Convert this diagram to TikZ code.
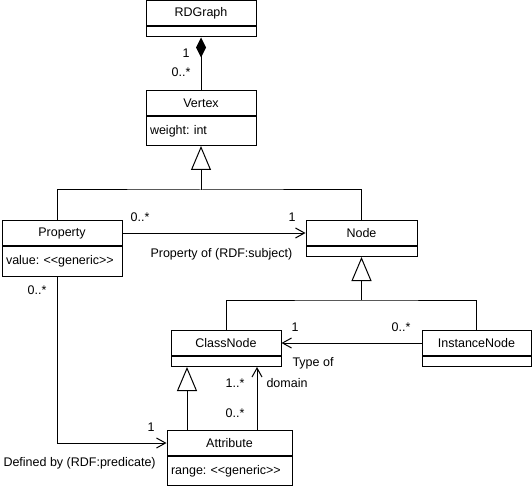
\documentclass[tikz,border=0pt]{standalone}
\usepackage{fontspec}
\setmainfont{Liberation Sans}
\usetikzlibrary{arrows.meta,positioning}

\newcommand{\guil}[1]{<\kern0pt<#1>\kern0pt>}

\tikzset{
	cname/.style={draw, minimum height=25pt, inner sep=0pt},
	cattr/.style={draw, inner xsep=4pt, inner ysep=0pt, align=left},
	gen/.style={-{Triangle[open, width=20pt, length=24pt]}},
	assoc/.style={-{Straight Barb[length=9pt, width=10pt]}},
	comp/.style={{Diamond[width=10pt, length=20pt]}-},
	mult/.style={inner sep=0pt},
}

\begin{document}
\frenchspacing
\begin{tikzpicture}[x=1pt, y=-1pt, line width=1pt, font=\fontsize{12.5}{14}\selectfont]
		\useasboundingbox (0,0) rectangle (532,486);
		\node[cname, minimum width=110pt, anchor=north] (rdg) at (201,0.5) {RDGraph};
		\node[cattr, text width=102pt, minimum height=10pt, below=0pt of rdg] (rdga) {};
		\node[cname, minimum width=110pt, anchor=north] (vx) at (201,90) {Vertex};
		\node[cattr, text width=102pt, minimum height=29pt, below=0pt of vx] (vxa) {weight: int};
		\node[cname, minimum width=120pt, anchor=north] (prop) at (62,220) {Property};
		\node[cattr, text width=112pt, minimum height=30pt, below=0pt of prop] (propa) {value: \guil{generic}};
		\node[cname, minimum width=111pt, anchor=north] (nd) at (361.5,220) {Node};
		\node[cattr, text width=103pt, minimum height=10pt, below=0pt of nd] (nda) {};
		\node[cname, minimum width=110pt, anchor=north] (cls) at (226,330) {ClassNode};
		\node[cattr, text width=102pt, minimum height=10pt, below=0pt of cls] (clsa) {};
		\node[cname, minimum width=109pt, anchor=north] (inst) at (476.5,330) {InstanceNode};
		\node[cattr, text width=101pt, minimum height=10pt, below=0pt of inst] (insta) {};
		\node[cname, minimum width=125pt, anchor=north] (att) at (229.5,430) {Attribute};
		\node[cattr, text width=117pt, minimum height=29pt, below=0pt of att] (atta) {range: \guil{generic}};
		\coordinate (j0) at (57,190);
		\coordinate (j1) at (201,190);
		\coordinate (j2) at (361.5,300);
		\coordinate (j3) at (187,400);
		\coordinate (j4) at (257,400);
		\draw[comp] (rdga.south) -- (vx.north);
		\draw[gen] (j1) -- (vxa.south);
		\draw (j0 |- prop.north) -- (j0) -- (j1) -| (nd.north);
		\draw[assoc] (prop.east) -- (nd.west);
		\draw[gen] (j2) -- (nda.south);
		\draw (cls.north) |- (j2) -| (inst.north);
		\draw[assoc] (inst.west) -- (cls.east);
		\draw[gen] (j3 |- att.north) -- (j3 |- clsa.south);
		\draw[assoc] (j4 |- att.north) -- (j4 |- clsa.south);
		\draw[assoc] (j0 |- propa.south) |- (att.west);
		\node[mult] (m1) at (186,53) {1};
		\node[mult, anchor=east] (m2) at (191,72) {0..*};
		\node[mult] (m3) at (140,217) {0..*};
		\node[mult] (m4) at (292,217) {1};
		\node[mult, anchor=west] (l1) at (150,254) {Property of (RDF:subject)};
		\node[mult] (m5) at (37,290) {0..*};
		\node[mult] (m6) at (295,327) {1};
		\node[mult] (m7) at (401,327) {0..*};
		\node[mult, anchor=west] (l2) at (292,363) {Type of};
		\node[mult, anchor=west] (l3) at (266,383) {domain};
		\node[mult] (m8) at (235,383) {1..*};
		\node[mult] (m9) at (235,413) {0..*};
		\node[mult] (m10) at (151,427) {1};
		\node[mult, anchor=west] (l4) at (3,463) {Defined by (RDF:predicate)};
\end{tikzpicture}
\end{document}
